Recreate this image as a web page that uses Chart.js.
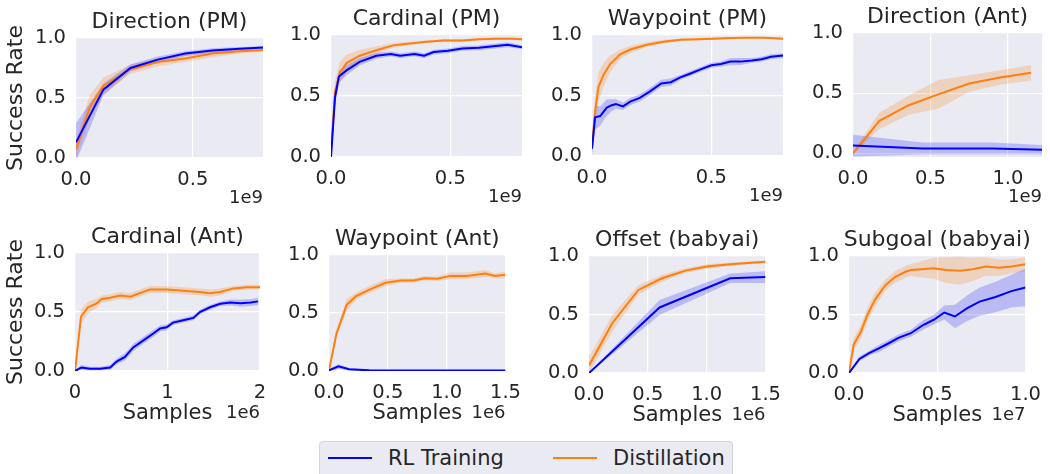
<!DOCTYPE html>
<html>
<head>
<meta charset="utf-8">
<script src="https://cdn.jsdelivr.net/npm/chart.js@4.4.0/dist/chart.umd.min.js"></script>
<style>
  body { margin: 0; width: 1050px; height: 474px; overflow: hidden; position: relative; background: #fff; font-family: 'DejaVu Sans', sans-serif; color: #262626; }
  canvas { position: absolute; }
  #legend { position: absolute; left: 319px; top: 441px; width: 414px; height: 44px; background: #eaeaf2; border: 1px solid #d4d4dc; border-radius: 4px; box-sizing: border-box; }
  #legend .line { position: absolute; top: 15px; width: 44px; height: 0; border-top: 2px solid; }
  #legend .label { position: absolute; top: 1px; font-size: 21px; line-height: 30px; }
</style>
</head>
<body>
<div id="legend">
  <span class="line" style="left: 8px; border-color: #0000ff;"></span>
  <span class="label" style="left: 68px;">RL Training</span>
  <span class="line" style="left: 233px; border-color: #ff7f0e;"></span>
  <span class="label" style="left: 293px;">Distillation</span>
</div>
<script>
// x values are in units of the offset text under each axis (1e9 / 1e6 / 1e7)

// Direction (PM)
const dirPmRlX = [0, 0.117, 0.233, 0.35, 0.467, 0.583, 0.7, 0.8];
const dirPmRlY = [0.13, 0.57, 0.75, 0.82, 0.87, 0.895, 0.91, 0.92];
const dirPmRlSd = [0.16, 0.05, 0.03, 0.025, 0.02, 0.02, 0.015, 0.012];
const dirPmDiX = [0, 0.058, 0.117, 0.233, 0.35, 0.467, 0.583, 0.7, 0.8];
const dirPmDiY = [0.07, 0.42, 0.6, 0.74, 0.8, 0.83, 0.87, 0.89, 0.9];
const dirPmDiSd = [0.07, 0.1, 0.07, 0.04, 0.035, 0.03, 0.03, 0.02, 0.015];

// Cardinal (PM)
const carPmRlX = [0, 0.017, 0.033, 0.065, 0.12, 0.19, 0.25, 0.29, 0.35, 0.39, 0.43, 0.49, 0.55, 0.62, 0.69, 0.74, 0.8];
const carPmRlY = [0, 0.49, 0.66, 0.71, 0.78, 0.83, 0.845, 0.83, 0.845, 0.83, 0.86, 0.87, 0.89, 0.895, 0.91, 0.92, 0.9];
const carPmRlSd = [0.01, 0.06, 0.05, 0.04, 0.03, 0.025, 0.02, 0.02, 0.02, 0.02, 0.02, 0.02, 0.02, 0.02, 0.02, 0.02, 0.015];
const carPmDiX = [0, 0.017, 0.037, 0.065, 0.12, 0.19, 0.26, 0.33, 0.4, 0.47, 0.55, 0.62, 0.69, 0.76, 0.8];
const carPmDiY = [0.04, 0.54, 0.69, 0.77, 0.83, 0.875, 0.915, 0.93, 0.945, 0.955, 0.955, 0.965, 0.97, 0.97, 0.965];
const carPmDiSd = [0.02, 0.08, 0.09, 0.07, 0.05, 0.03, 0.02, 0.015, 0.01, 0.01, 0.01, 0.01, 0.01, 0.01, 0.01];

// Waypoint (PM)
const wayPmRlX = [0, 0.013, 0.034, 0.062, 0.083, 0.1, 0.13, 0.16, 0.2, 0.24, 0.29, 0.33, 0.37, 0.41, 0.46, 0.5, 0.54, 0.58, 0.62, 0.67, 0.71, 0.75, 0.8];
const wayPmRlY = [0.06, 0.32, 0.33, 0.4, 0.42, 0.43, 0.41, 0.45, 0.48, 0.53, 0.6, 0.61, 0.65, 0.68, 0.72, 0.75, 0.76, 0.78, 0.78, 0.79, 0.8, 0.82, 0.83];
const wayPmRlSd = [0.06, 0.1, 0.08, 0.07, 0.05, 0.04, 0.03, 0.03, 0.03, 0.03, 0.03, 0.03, 0.02, 0.02, 0.02, 0.02, 0.02, 0.03, 0.03, 0.02, 0.02, 0.02, 0.02];
const wayPmDiX = [0, 0.013, 0.027, 0.048, 0.076, 0.118, 0.16, 0.23, 0.3, 0.37, 0.44, 0.51, 0.58, 0.65, 0.72, 0.8];
const wayPmDiY = [0.08, 0.37, 0.57, 0.67, 0.76, 0.84, 0.88, 0.92, 0.945, 0.96, 0.965, 0.97, 0.975, 0.977, 0.977, 0.97];
const wayPmDiSd = [0.05, 0.12, 0.12, 0.1, 0.07, 0.04, 0.03, 0.02, 0.015, 0.01, 0.01, 0.01, 0.008, 0.008, 0.008, 0.008];

// Direction (Ant)
const dirAntRlX = [0, 0.45, 0.9, 1.22];
const dirAntRlY = [0.065, 0.04, 0.04, 0.03];
const dirAntRlSd = [0.09, 0.05, 0.05, 0.04];
const dirAntDiX = [0, 0.17, 0.36, 0.55, 0.75, 0.95, 1.15];
const dirAntDiY = [0, 0.27, 0.4, 0.49, 0.58, 0.63, 0.67];
const dirAntDiSd = [0.01, 0.07, 0.08, 0.12, 0.07, 0.06, 0.065];

// Cardinal (Ant)
const carAntRlX = [0, 0.07, 0.16, 0.27, 0.38, 0.45, 0.54, 0.63, 0.74, 0.85, 0.92, 0.99, 1.06, 1.17, 1.28, 1.35, 1.46, 1.57, 1.68, 1.79, 1.9, 1.98];
const carAntRlY = [0, 0.03, 0.02, 0.02, 0.03, 0.08, 0.12, 0.2, 0.26, 0.32, 0.36, 0.37, 0.41, 0.43, 0.45, 0.5, 0.54, 0.57, 0.58, 0.575, 0.58, 0.59];
const carAntRlSd = [0.005, 0.02, 0.015, 0.015, 0.02, 0.025, 0.03, 0.03, 0.03, 0.03, 0.025, 0.025, 0.02, 0.02, 0.02, 0.02, 0.02, 0.02, 0.025, 0.03, 0.03, 0.03];
const carAntDiX = [0, 0.065, 0.14, 0.23, 0.29, 0.38, 0.49, 0.6, 0.7, 0.81, 0.99, 1.17, 1.35, 1.46, 1.57, 1.71, 1.86, 2.0];
const carAntDiY = [0, 0.46, 0.54, 0.57, 0.61, 0.62, 0.64, 0.63, 0.66, 0.69, 0.69, 0.68, 0.67, 0.66, 0.67, 0.7, 0.71, 0.71];
const carAntDiSd = [0.01, 0.06, 0.05, 0.04, 0.03, 0.03, 0.03, 0.03, 0.03, 0.03, 0.03, 0.03, 0.03, 0.03, 0.03, 0.02, 0.02, 0.02];

// Waypoint (Ant)
const wayAntRlX = [0, 0.08, 0.17, 0.34, 0.6, 0.9, 1.2, 1.5];
const wayAntRlY = [0.006, 0.04, 0.015, 0.006, 0.005, 0.005, 0.005, 0.005];
const wayAntRlSd = [0.01, 0.02, 0.01, 0.005, 0.005, 0.005, 0.005, 0.005];
const wayAntDiX = [0, 0.063, 0.15, 0.23, 0.34, 0.48, 0.61, 0.72, 0.81, 0.92, 1.03, 1.17, 1.33, 1.41, 1.5];
const wayAntDiY = [0.006, 0.32, 0.57, 0.645, 0.7, 0.76, 0.78, 0.78, 0.8, 0.795, 0.82, 0.82, 0.84, 0.82, 0.83];
const wayAntDiSd = [0.01, 0.03, 0.05, 0.03, 0.03, 0.03, 0.02, 0.02, 0.02, 0.02, 0.03, 0.03, 0.03, 0.02, 0.03];

// Offset (babyai)
const offBabyRlX = [0, 0.6, 1.2, 1.5];
const offBabyRlY = [0, 0.56, 0.81, 0.82];
const offBabyRlSd = [0.005, 0.065, 0.04, 0.05];
const offBabyDiX = [0, 0.2, 0.42, 0.62, 0.82, 1.0, 1.2, 1.5];
const offBabyDiY = [0.065, 0.43, 0.71, 0.81, 0.875, 0.91, 0.93, 0.95];
const offBabyDiSd = [0.07, 0.07, 0.04, 0.03, 0.02, 0.02, 0.015, 0.01];

// Subgoal (babyai)
const subBabyRlX = [0, 0.059, 0.114, 0.169, 0.22, 0.28, 0.35, 0.42, 0.48, 0.54, 0.6, 0.67, 0.74, 0.83, 0.92, 1.0];
const subBabyRlY = [0, 0.12, 0.17, 0.21, 0.25, 0.3, 0.34, 0.41, 0.455, 0.517, 0.483, 0.554, 0.61, 0.65, 0.7, 0.73];
const subBabyRlSd = [0.005, 0.02, 0.02, 0.03, 0.03, 0.03, 0.03, 0.04, 0.04, 0.06, 0.1, 0.11, 0.12, 0.13, 0.14, 0.16];
const subBabyDiX = [0, 0.026, 0.068, 0.105, 0.147, 0.206, 0.26, 0.32, 0.35, 0.41, 0.48, 0.55, 0.63, 0.7, 0.775, 0.85, 0.92, 1.0];
const subBabyDiY = [0, 0.24, 0.355, 0.5, 0.625, 0.75, 0.82, 0.865, 0.88, 0.886, 0.895, 0.88, 0.875, 0.886, 0.91, 0.9, 0.91, 0.93];
const subBabyDiSd = [0.005, 0.05, 0.06, 0.06, 0.06, 0.05, 0.05, 0.05, 0.05, 0.07, 0.09, 0.11, 0.12, 0.1, 0.08, 0.07, 0.06, 0.06];

// ticks
const yTicks = [0, 0.5, 1];
const yTickLabels = ['0.0', '0.5', '1.0'];
const pmTicks = [0, 0.5];
const pmTickLabels = ['0.0', '0.5'];
const antDirTicks = [0, 0.5, 1];
const antDirTickLabels = ['0.0', '0.5', '1.0'];
const carAntTicks = [0, 1, 2];
const carAntTickLabels = ['0', '1', '2'];
const halfTicks = [0, 0.5, 1, 1.5];
const halfTickLabels = ['0.0', '0.5', '1.0', '1.5'];
const unitTicks = [0, 0.5, 1];
const unitTickLabels = ['0.0', '0.5', '1.0'];

const BLUE = '#0000ff';
const ORANGE = '#ff7f0e';
const BLUE_BAND = 'rgba(0, 0, 255, 0.2)';
const ORANGE_BAND = 'rgba(255, 127, 14, 0.22)';
const TEXT = '#262626';
const FONT = "'DejaVu Sans', sans-serif";

// box = plot area [left, top, width, height] in page pixels
const panels = [
  { title: 'Direction (PM)', offset: '1e9', box: [76, 38, 187, 120], xMax: 0.8, yMin: 0,
    xTicks: pmTicks, xLabels: pmTickLabels, ylabel: true,
    rl: [dirPmRlX, dirPmRlY, dirPmRlSd], di: [dirPmDiX, dirPmDiY, dirPmDiSd] },
  { title: 'Cardinal (PM)', offset: '1e9', box: [331, 35, 191, 122], xMax: 0.8, yMin: 0,
    xTicks: pmTicks, xLabels: pmTickLabels,
    rl: [carPmRlX, carPmRlY, carPmRlSd], di: [carPmDiX, carPmDiY, carPmDiSd] },
  { title: 'Waypoint (PM)', offset: '1e9', box: [592, 35, 191, 121], xMax: 0.8, yMin: 0,
    xTicks: pmTicks, xLabels: pmTickLabels,
    rl: [wayPmRlX, wayPmRlY, wayPmRlSd], di: [wayPmDiX, wayPmDiY, wayPmDiSd] },
  { title: 'Direction (Ant)', offset: '1e9', box: [853, 33, 189, 124], xMax: 1.22, yMin: -0.03,
    xTicks: antDirTicks, xLabels: antDirTickLabels,
    rl: [dirAntRlX, dirAntRlY, dirAntRlSd], di: [dirAntDiX, dirAntDiY, dirAntDiSd] },
  { title: 'Cardinal (Ant)', offset: '1e6', box: [75, 253, 185, 118], xMax: 2, yMin: 0,
    xTicks: carAntTicks, xLabels: carAntTickLabels, ylabel: true, xlabel: true,
    rl: [carAntRlX, carAntRlY, carAntRlSd], di: [carAntDiX, carAntDiY, carAntDiSd] },
  { title: 'Waypoint (Ant)', offset: '1e6', box: [329, 255, 182, 116], xMax: 1.5, yMin: 0,
    xTicks: halfTicks, xLabels: halfTickLabels, xlabel: true,
    rl: [wayAntRlX, wayAntRlY, wayAntRlSd], di: [wayAntDiX, wayAntDiY, wayAntDiSd] },
  { title: 'Offset (babyai)', offset: '1e6', box: [589, 256, 182, 117], xMax: 1.5, yMin: 0,
    xTicks: halfTicks, xLabels: halfTickLabels, xlabel: true,
    rl: [offBabyRlX, offBabyRlY, offBabyRlSd], di: [offBabyDiX, offBabyDiY, offBabyDiSd] },
  { title: 'Subgoal (babyai)', offset: '1e7', box: [849, 256, 182, 117], xMax: 1, yMin: 0,
    xTicks: unitTicks, xLabels: unitTickLabels, xlabel: true,
    rl: [subBabyRlX, subBabyRlY, subBabyRlSd], di: [subBabyDiX, subBabyDiY, subBabyDiSd] },
];

// gray plot background, title and the offset text
const panelText = {
  id: 'panelText',
  beforeDraw(chart, args, opts) {
    const { ctx, chartArea: a } = chart;
    ctx.save();
    ctx.fillStyle = '#eaeaf2';
    ctx.fillRect(a.left, a.top, a.width, a.height);
    ctx.restore();
  },
  afterDraw(chart, args, opts) {
    const { ctx, chartArea: a } = chart;
    ctx.save();
    ctx.fillStyle = TEXT;
    ctx.textBaseline = 'middle';
    ctx.font = `22px ${FONT}`;
    ctx.textAlign = 'center';
    ctx.fillText(opts.title, (a.left + a.right) / 2, a.top - 16);
    ctx.font = `18px ${FONT}`;
    ctx.textAlign = 'right';
    ctx.fillText(opts.offset, a.right, a.bottom + opts.offsetGap);
    ctx.restore();
  },
};

const line = ([xs, ys]) => xs.map((x, i) => ({ x, y: ys[i] }));
const band = ([xs, ys, sd], sign) => xs.map((x, i) => ({ x, y: ys[i] + sign * sd[i] }));

const makeChart = (p) => {
  const [left, top, w, h] = p.box;
  const yW = p.ylabel ? left : 60;
  const xH = 58;
  const padTop = 34;
  const padRight = 20;

  const canvas = document.createElement('canvas');
  canvas.width = yW + w + padRight;
  canvas.height = padTop + h + xH;
  canvas.style.left = `${left - yW}px`;
  canvas.style.top = `${top - padTop}px`;
  document.body.appendChild(canvas);

  const lineStyle = { pointRadius: 0, borderWidth: 2, fill: false, tension: 0 };
  const bandStyle = { pointRadius: 0, borderWidth: 0, borderColor: 'transparent', tension: 0 };

  new Chart(canvas, {
    type: 'line',
    data: {
      datasets: [
        { ...lineStyle, label: 'RL Training', data: line(p.rl), borderColor: BLUE },
        { ...lineStyle, label: 'Distillation', data: line(p.di), borderColor: ORANGE },
        { ...bandStyle, data: band(p.rl, 1), backgroundColor: BLUE_BAND, fill: '+1' },
        { ...bandStyle, data: band(p.rl, -1), fill: false },
        { ...bandStyle, data: band(p.di, 1), backgroundColor: ORANGE_BAND, fill: '+1' },
        { ...bandStyle, data: band(p.di, -1), fill: false },
      ],
    },
    options: {
      responsive: false,
      animation: false,
      events: [],
      layout: { padding: { top: padTop, right: padRight, left: 0, bottom: 0 } },
      plugins: {
        legend: { display: false },
        tooltip: { enabled: false },
        panelText: { title: p.title, offset: p.offset, offsetGap: p.xlabel ? 42 : 40 },
      },
      scales: {
        x: {
          type: 'linear',
          min: 0,
          max: p.xMax,
          afterBuildTicks: (s) => { s.ticks = p.xTicks.map((v) => ({ value: v })); },
          afterFit: (s) => { s.height = xH; },
          grid: { color: '#ffffff', lineWidth: 1.2, drawTicks: false },
          border: { display: false },
          ticks: {
            autoSkip: false,
            maxRotation: 0,
            padding: 10,
            color: TEXT,
            font: { family: FONT, size: 19.5 },
            callback: (v, i) => p.xLabels[i],
          },
          title: {
            display: !!p.xlabel,
            text: 'Samples',
            color: TEXT,
            font: { family: FONT, size: 21 },
            padding: { top: 0, bottom: 3 },
          },
        },
        y: {
          min: p.yMin,
          max: 1,
          afterBuildTicks: (s) => { s.ticks = yTicks.map((v) => ({ value: v })); },
          afterFit: (s) => { s.width = yW; },
          grid: { color: '#ffffff', lineWidth: 1.2, drawTicks: false },
          border: { display: false },
          ticks: {
            padding: 10,
            color: TEXT,
            font: { family: FONT, size: 19.5 },
            callback: (v, i) => yTickLabels[i],
          },
          title: {
            display: !!p.ylabel,
            text: 'Success Rate',
            color: TEXT,
            font: { family: FONT, size: 22 },
            padding: { top: 3, bottom: 0 },
          },
        },
      },
    },
    plugins: [panelText],
  });
};

panels.forEach(makeChart);
</script>
</body>
</html>
